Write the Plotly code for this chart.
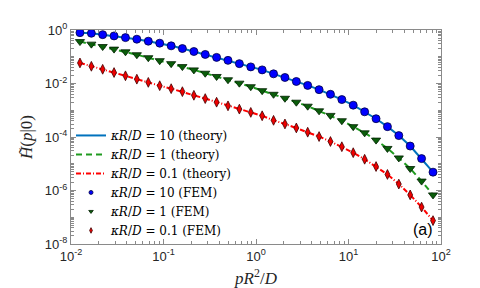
import plotly.graph_objects as go

# p R^2 / D sample points
p_vals = [0.0125, 0.0166, 0.0220, 0.0292, 0.0388, 0.0515, 0.0685, 0.0910,
          0.121, 0.160, 0.213, 0.2825, 0.375, 0.498, 0.661, 0.878,
          1.166, 1.548, 2.056, 2.729, 3.622, 4.808, 6.383, 8.472,
          11.25, 14.95, 19.86, 26.36, 34.99, 46.45, 61.66, 82.0]

# kappa R / D = 10
h_k10 = [0.794, 0.755, 0.670, 0.600, 0.519, 0.453, 0.382, 0.322,
         0.256, 0.203, 0.157, 0.122, 0.0946, 0.0733, 0.0553, 0.0418,
         0.0323, 0.0230, 0.0168, 0.0119, 0.00849, 0.00589, 0.00395, 0.00251,
         0.00155, 8.74e-4, 4.82e-4, 2.44e-4, 1.13e-4, 4.59e-5, 1.56e-5, 4.85e-6]

# kappa R / D = 1
h_k1 = [0.369, 0.296, 0.241, 0.193, 0.153, 0.119, 0.0921, 0.0714,
        0.0553, 0.0429, 0.0323, 0.0242, 0.0183, 0.0138, 0.0103, 0.0076,
        0.0054, 0.00395, 0.00281, 0.00200, 0.00142, 9.52e-4, 6.43e-4, 4.06e-4,
        2.44e-4, 1.43e-4, 7.66e-5, 3.74e-5, 1.65e-5, 6.64e-6, 2.25e-6, 6.84e-7]

# kappa R / D = 0.1
h_k01 = [0.0587, 0.0440, 0.0340, 0.0257, 0.0194, 0.0145, 0.0110, 0.00828,
         0.00641, 0.00496, 0.00362, 0.00273, 0.00200, 0.00146, 0.00110, 8.30e-4,
         6.22e-4, 4.20e-4, 3.07e-4, 2.18e-4, 1.51e-4, 1.04e-4, 6.79e-5, 4.33e-5,
         2.59e-5, 1.47e-5, 7.87e-6, 3.98e-6, 1.74e-6, 6.84e-7, 2.40e-7, 7.48e-8]

x_tickvals = [0.01, 0.1, 1, 10, 100]
x_ticktext = ["10<sup>-2</sup>", "10<sup>-1</sup>", "10<sup>0</sup>", "10<sup>1</sup>", "10<sup>2</sup>"]
y_tickvals = [1e-8, 1e-6, 1e-4, 1e-2, 1]
y_ticktext = ["10<sup>-8</sup>", "10<sup>-6</sup>", "10<sup>-4</sup>", "10<sup>-2</sup>", "10<sup>0</sup>"]

lab = "<i>κR</i>/<i>D</i> = "

blue_m = dict(symbol="circle", color="#0000ff", line=dict(color="#000040", width=0.8))
green_m = dict(symbol="triangle-down", color="#0a5d0a", line=dict(color="#002000", width=0.8))
red_m = dict(symbol="diamond-tall", color="#ee0000", line=dict(color="#400000", width=0.8))

fig = go.Figure()
fig.add_trace(go.Scatter(x=p_vals, y=h_k10, mode="lines", name=lab + "10 (theory)",
                         line=dict(color="#0072BD", width=2)))
fig.add_trace(go.Scatter(x=p_vals, y=h_k1, mode="lines", name=lab + "1 (theory)",
                         line=dict(color="#1f9a1f", width=2, dash="6px,4px")))
fig.add_trace(go.Scatter(x=p_vals, y=h_k01, mode="lines", name=lab + "0.1 (theory)",
                         line=dict(color="#ff0000", width=2, dash="5px,2px,1px,2px")))
fig.add_trace(go.Scatter(x=p_vals, y=h_k10, mode="markers", showlegend=False,
                         marker=dict(size=8, **blue_m)))
fig.add_trace(go.Scatter(x=p_vals, y=h_k1, mode="markers", showlegend=False,
                         marker=dict(size=8, **green_m)))
fig.add_trace(go.Scatter(x=p_vals, y=h_k01, mode="markers", showlegend=False,
                         marker=dict(size=7, **red_m)))
# legend entries for FEM markers (smaller symbols, as in the reference legend)
fig.add_trace(go.Scatter(x=[None], y=[None], mode="markers", name=lab + "10 (FEM)",
                         marker=dict(size=4, **blue_m)))
fig.add_trace(go.Scatter(x=[None], y=[None], mode="markers", name=lab + "1 (FEM)",
                         marker=dict(size=4, **green_m)))
fig.add_trace(go.Scatter(x=[None], y=[None], mode="markers", name=lab + "0.1 (FEM)",
                         marker=dict(size=4, **red_m)))

axis_common = dict(
    showline=True, linecolor="#8a8a8a", linewidth=1, mirror="allticks",
    ticks="inside", ticklen=5, tickcolor="#8a8a8a", showgrid=False, zeroline=False,
    tickfont=dict(family="Liberation Sans, Arial, sans-serif", size=13, color="#262626"),
    minor=dict(ticks="inside", ticklen=3, tickcolor="#8a8a8a", dtick="D1", showgrid=False),
)

fig.update_xaxes(type="log", range=[-2, 2], tickvals=x_tickvals, ticktext=x_ticktext,
                 title=dict(text="<i>pR</i><sup>2</sup>/<i>D</i>", standoff=9,
                            font=dict(family="Liberation Serif, serif", size=17, color="#262626")),
                 **axis_common)
fig.update_yaxes(type="log", range=[-8, 0], tickvals=y_tickvals, ticktext=y_ticktext,
                 title=dict(text="<i>H̃</i>(<i>p</i>|0)", standoff=7,
                            font=dict(family="Liberation Serif, serif", size=17, color="#262626")),
                 **axis_common)

fig.add_annotation(x=0.985, y=0.02, xref="paper", yref="paper", text="(a)",
                   showarrow=False, xanchor="right", yanchor="bottom",
                   font=dict(family="Liberation Sans, Arial, sans-serif", size=16, color="#000000"))

fig.update_layout(
    width=480, height=288,
    margin=dict(l=63, r=47, t=22, b=50),
    paper_bgcolor="white", plot_bgcolor="white",
    legend=dict(x=0.0, y=0.575, xanchor="left", yanchor="top",
                bgcolor="rgba(0,0,0,0)", borderwidth=0, tracegroupgap=0,
                font=dict(family="DejaVu Serif, serif", size=12, color="#000000"),
                itemwidth=30),
)

fig.write_html("out.html")
